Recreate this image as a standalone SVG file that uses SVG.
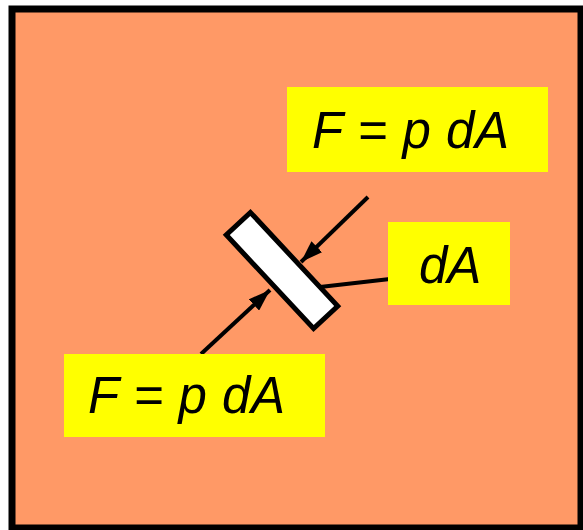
<svg xmlns="http://www.w3.org/2000/svg" width="583" height="530" viewBox="0 0 583 530">
<defs>
<style>
.lbl{fill:#ffff00}
.t{font-family:"Liberation Sans",Arial,sans-serif;font-style:italic;font-size:51px;fill:#000}
.c{stroke:#000;stroke-width:4;fill:none}
</style>
<marker id="ah" viewBox="0 0 10 7" refX="10" refY="3.5" markerWidth="5.5" markerHeight="3.85" orient="auto" markerUnits="strokeWidth">
<path d="M0,0 L10,3.5 L0,7 z" fill="#000"/>
</marker>
</defs>
<rect x="0" y="0" width="583" height="530" fill="#fff"/>
<rect id="frame" x="12" y="9" width="569" height="519" fill="#ff9966" stroke="#000" stroke-width="7"/>
<g id="plate">
<rect x="218" y="254" width="128" height="33" fill="#fff" stroke="#000" stroke-width="5" transform="rotate(47 282 270.5)"/>
</g>
<g id="connectors">
<line class="c" x1="368" y1="197" x2="301" y2="262" marker-end="url(#ah)"/>
<line class="c" x1="201" y1="354" x2="270" y2="290" marker-end="url(#ah)"/>
<line class="c" x1="320" y1="287" x2="390" y2="279"/>
</g>
<g id="label-top">
<rect class="lbl" x="287" y="87" width="261" height="85"/>
<text class="t" x="312" y="148" textLength="197" lengthAdjust="spacing">F = p dA</text>
</g>
<g id="label-dA">
<rect class="lbl" x="388" y="222" width="122" height="83"/>
<text class="t" x="419" y="283">dA</text>
</g>
<g id="label-bottom">
<rect class="lbl" x="64" y="354" width="261" height="83"/>
<text class="t" x="88" y="413" textLength="197" lengthAdjust="spacing">F = p dA</text>
</g>
</svg>
